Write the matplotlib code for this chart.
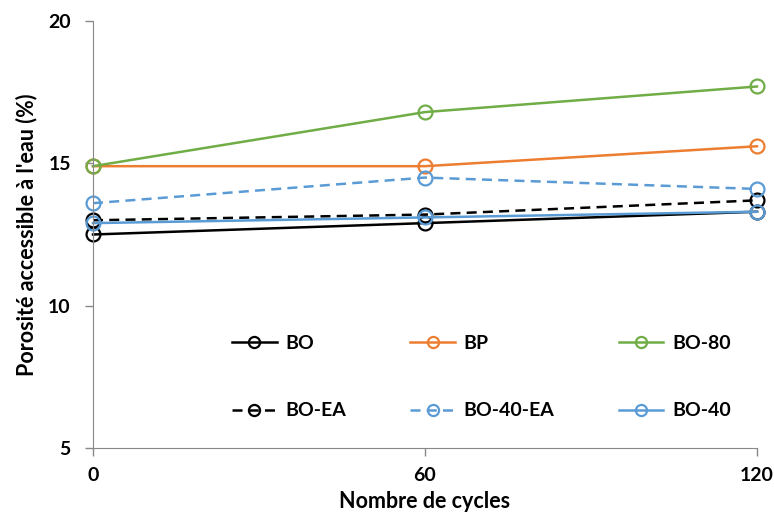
import matplotlib.pyplot as plt

cycles = [0, 60, 120]
bo = [12.5, 12.9, 13.3]
bp = [14.9, 14.9, 15.6]
bo80 = [14.9, 16.8, 17.7]
bo_ea = [13.0, 13.2, 13.7]
bo40_ea = [13.6, 14.5, 14.1]
bo40 = [12.9, 13.1, 13.3]

plt.rcParams['font.family'] = ['Lato', 'DejaVu Sans']
plt.rcParams['font.weight'] = 'bold'

fig = plt.figure(figsize=(7.74, 5.15), dpi=100)
ax = fig.add_axes([93 / 774, 1 - 448 / 515, (757 - 93) / 774, (448 - 21) / 515])

mk = dict(marker='o', markersize=10, markerfacecolor='none', markeredgewidth=1.6,
          lw=1.8, clip_on=False)
l_bo, = ax.plot(cycles, bo, color='black', label='BO', **mk)
l_bp, = ax.plot(cycles, bp, color='#ED7D31', label='BP', **mk)
l_bo80, = ax.plot(cycles, bo80, color='#70AD47', label='BO-80', **mk)
l_boea, = ax.plot(cycles, bo_ea, color='black', ls=(0, (4, 2.5)), label='BO-EA', **mk)
l_bo40ea, = ax.plot(cycles, bo40_ea, color='#5B9BD5', ls=(0, (4, 2.5)), label='BO-40-EA', **mk)
l_bo40, = ax.plot(cycles, bo40, color='#5B9BD5', label='BO-40', **mk)

ax.set_xlim(0, 120)
ax.set_ylim(5, 20)
ax.set_xticks(cycles)
ax.set_yticks([5, 10, 15, 20])
for s in ['top', 'right']:
    ax.spines[s].set_visible(False)
for s in ['left', 'bottom']:
    ax.spines[s].set_color('#888888')
ax.tick_params(colors='#888888', labelcolor='black', labelsize=14, length=6, width=1)
ax.tick_params(axis='x', pad=8)
ax.tick_params(axis='y', pad=10)

ax.set_xlabel('Nombre de cycles', fontsize=15.5, fontweight='bold', labelpad=5)
ax.set_ylabel("Porosité accessible à l'eau (%)", fontsize=15.5, fontweight='bold', labelpad=8)

handles = [l_bo, l_boea, l_bp, l_bo40ea, l_bo80, l_bo40]
ax.legend(handles=handles, labels=[h.get_label() for h in handles], ncol=3,
          loc='center', bbox_to_anchor=(0.585, 0.166), frameon=False,
          fontsize=14, handlelength=2.3, labelspacing=2.6, columnspacing=3.3,
          handletextpad=0.45, markerscale=0.8)

fig.savefig('out.png', dpi=100)
